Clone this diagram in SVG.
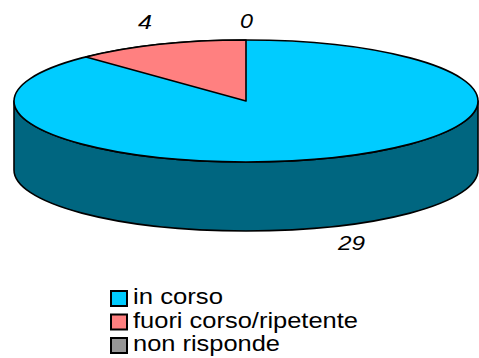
<svg xmlns="http://www.w3.org/2000/svg" width="479" height="358" viewBox="0 0 479 358">
<style>
.edge{stroke:#000;stroke-width:1.6;stroke-linejoin:round}
.lbl{font-family:"Liberation Sans",Arial,sans-serif;font-style:italic;font-size:21px;fill:#000}
.leg{font-family:"Liberation Sans",Arial,sans-serif;font-size:22px;fill:#000}
.sw{stroke:#000;stroke-width:2}
</style>
<rect width="479" height="358" fill="#fff"/>
<g id="pie">
<g id="side">
<path class="edge" fill="#006680" d="M14,101 A232,61 0 0 0 478,101 L478,170 A232,61 0 0 1 14,170 Z"/>
</g>
<g id="slice-in-corso">
<ellipse class="edge" fill="#00CCFF" cx="246" cy="101" rx="232" ry="61"/>
</g>
<g id="slice-fuori-corso">
<path class="edge" fill="#FF8080" d="M246,101 L246,40 A232,61 0 0 0 86,57 Z"/>
</g>
</g>
<g id="labels">
<text class="lbl" x="138" y="29" textLength="14" lengthAdjust="spacingAndGlyphs">4</text>
<text class="lbl" x="240" y="28" textLength="13" lengthAdjust="spacingAndGlyphs">0</text>
<text class="lbl" x="338" y="250" textLength="27" lengthAdjust="spacingAndGlyphs">29</text>
</g>
<g id="legend">
<g id="legend-in-corso">
<rect class="sw" x="111" y="291" width="16" height="15" fill="#00CCFF"/>
<text class="leg" x="133" y="304" textLength="90" lengthAdjust="spacingAndGlyphs">in corso</text>
</g>
<g id="legend-fuori-corso">
<rect class="sw" x="111" y="314.5" width="16" height="15" fill="#FF8080"/>
<text class="leg" x="133" y="328" textLength="225" lengthAdjust="spacingAndGlyphs">fuori corso/ripetente</text>
</g>
<g id="legend-non-risponde">
<rect class="sw" x="111" y="338" width="16" height="15" fill="#969696"/>
<text class="leg" x="133" y="351" textLength="147" lengthAdjust="spacingAndGlyphs">non risponde</text>
</g>
</g>
</svg>
